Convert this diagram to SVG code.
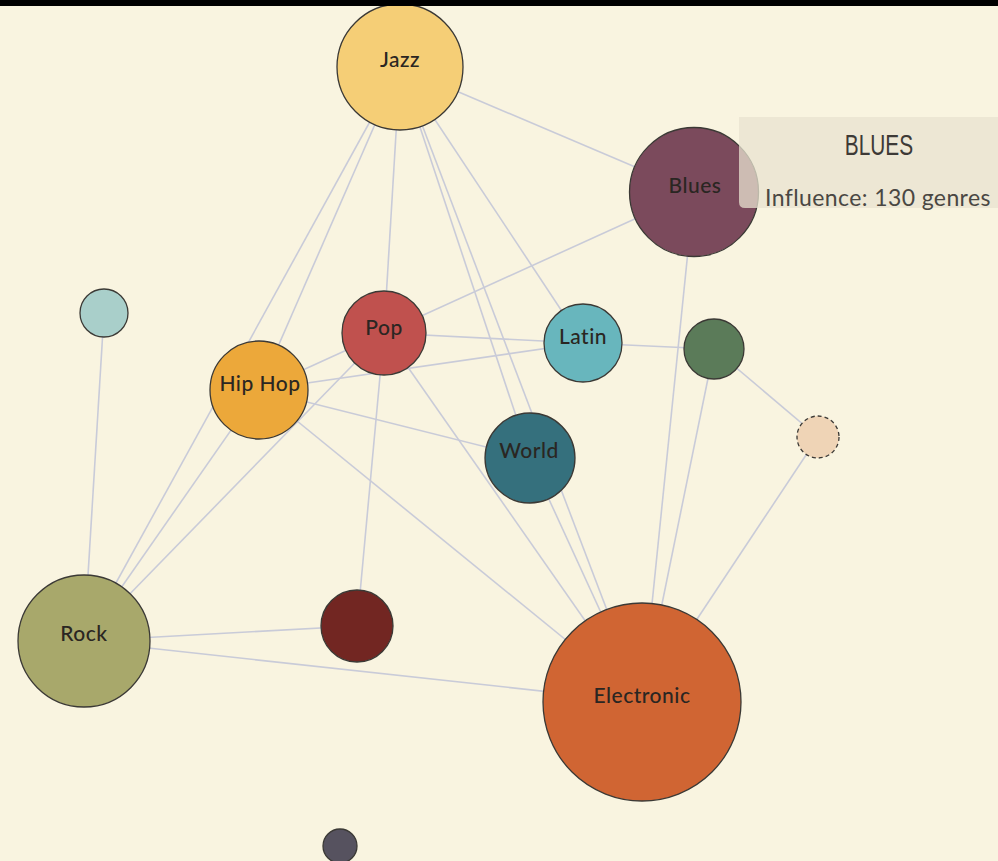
<svg xmlns="http://www.w3.org/2000/svg" width="998" height="861" viewBox="0 0 998 861">
<style>
.edge{stroke:#c9cbd8;stroke-width:1.6;fill:none}
.node{stroke:#3b3935;stroke-width:1.3}
.lbl{font-family:Lato,"Noto Sans",sans-serif;font-size:21px;font-weight:500;letter-spacing:0.5px;fill:#2a2622;text-anchor:middle}
.tt-title{font-family:"Liberation Sans",Arial,sans-serif;font-size:29px;fill:#3d3a36;text-anchor:middle}
.tt-body{font-family:Lato,"Noto Sans",sans-serif;font-size:23px;letter-spacing:0.4px;fill:#4a4743}
</style>
<rect x="0" y="0" width="998" height="861" fill="#f9f4e0"/>
<g id="connectors">
<line class="edge" x1="400" y1="67" x2="694" y2="192"/>
<line class="edge" x1="400" y1="67" x2="384" y2="333"/>
<line class="edge" x1="400" y1="67" x2="259" y2="390"/>
<line class="edge" x1="400" y1="67" x2="84" y2="641"/>
<line class="edge" x1="400" y1="67" x2="530" y2="458"/>
<line class="edge" x1="400" y1="67" x2="642" y2="702"/>
<line class="edge" x1="400" y1="67" x2="583" y2="343"/>
<line class="edge" x1="694" y1="192" x2="384" y2="333"/>
<line class="edge" x1="694" y1="192" x2="642" y2="702"/>
<line class="edge" x1="384" y1="333" x2="583" y2="343"/>
<line class="edge" x1="384" y1="333" x2="259" y2="390"/>
<line class="edge" x1="384" y1="333" x2="84" y2="641"/>
<line class="edge" x1="384" y1="333" x2="357" y2="626"/>
<line class="edge" x1="384" y1="333" x2="642" y2="702"/>
<line class="edge" x1="259" y1="390" x2="583" y2="343"/>
<line class="edge" x1="259" y1="390" x2="530" y2="458"/>
<line class="edge" x1="259" y1="390" x2="642" y2="702"/>
<line class="edge" x1="259" y1="390" x2="84" y2="641"/>
<line class="edge" x1="583" y1="343" x2="714" y2="349"/>
<line class="edge" x1="714" y1="349" x2="642" y2="702"/>
<line class="edge" x1="714" y1="349" x2="818" y2="437"/>
<line class="edge" x1="818" y1="437" x2="642" y2="702"/>
<line class="edge" x1="530" y1="458" x2="642" y2="702"/>
<line class="edge" x1="104" y1="313" x2="84" y2="641"/>
<line class="edge" x1="84" y1="641" x2="357" y2="626"/>
<line class="edge" x1="84" y1="641" x2="642" y2="702"/>
</g>
<g id="node-jazz"><circle class="node" cx="400" cy="67" r="63" fill="#f5ce76"/><text class="lbl" x="400" y="67">Jazz</text></g>
<g id="node-blues"><circle class="node" cx="694" cy="192" r="64.5" fill="#7b4a5c"/><text class="lbl" x="695" y="193">Blues</text></g>
<g id="node-pop"><circle class="node" cx="384" cy="333" r="42" fill="#c0514e"/><text class="lbl" x="384" y="335">Pop</text></g>
<g id="node-hiphop"><circle class="node" cx="259" cy="390" r="49" fill="#eca83a"/><text class="lbl" x="260" y="391">Hip Hop</text></g>
<g id="node-latin"><circle class="node" cx="583" cy="343" r="39" fill="#68b6bd"/><text class="lbl" x="583" y="344">Latin</text></g>
<g id="node-world"><circle class="node" cx="530" cy="458" r="45" fill="#35707d"/><text class="lbl" x="529" y="458">World</text></g>
<g id="node-green"><circle class="node" cx="714" cy="349" r="30" fill="#5b7b59"/></g>
<g id="node-peach"><circle class="node" cx="818" cy="437" r="21" fill="#efd4b6" stroke-dasharray="4 3"/></g>
<g id="node-teal"><circle class="node" cx="104" cy="313" r="24" fill="#a9cfca"/></g>
<g id="node-rock"><circle class="node" cx="84" cy="641" r="66" fill="#a8a86b"/><text class="lbl" x="84" y="641">Rock</text></g>
<g id="node-darkred"><circle class="node" cx="357" cy="626" r="36" fill="#722622"/></g>
<g id="node-electronic"><circle class="node" cx="642" cy="702" r="99" fill="#d06533"/><text class="lbl" x="642" y="703">Electronic</text></g>
<g id="node-gray"><circle class="node" cx="340" cy="846" r="17" fill="#56525f"/></g>
<g id="tooltip">
<path d="M739 117 H998 V208 H745 Q739 208 739 202 Z" fill="#e8e3d0" fill-opacity="0.75"/>
<text class="tt-title" transform="translate(879 155) scale(0.72 1)" x="0" y="0">BLUES</text>
<text class="tt-body" x="765" y="206">Influence: 130 genres</text>
</g>
<rect id="topbar" x="0" y="0" width="998" height="6" fill="#000"/>
</svg>
